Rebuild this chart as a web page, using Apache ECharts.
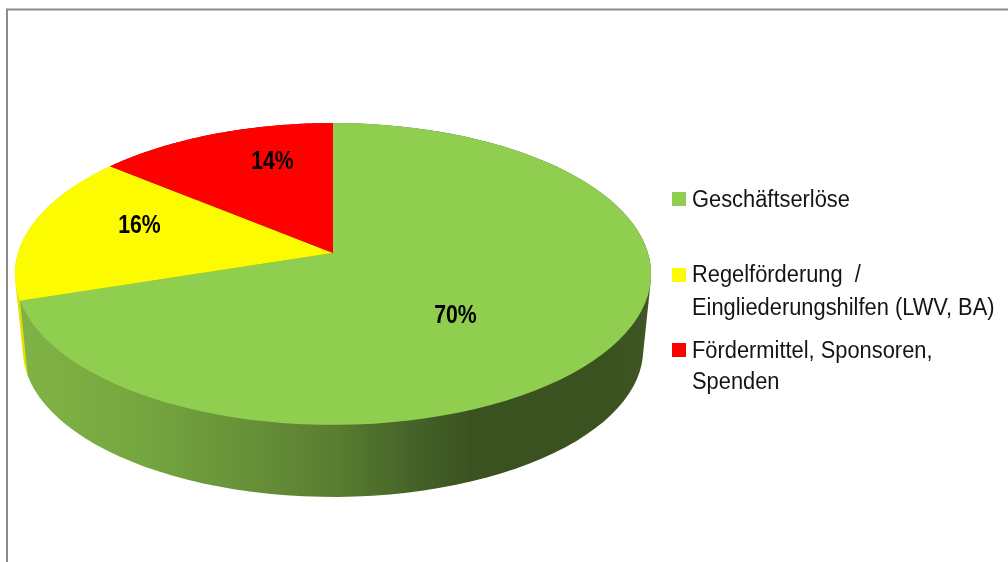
<!DOCTYPE html>
<html>
<head>
<meta charset="utf-8">
<style>html,body{margin:0;padding:0;background:#fff}#c{width:1008px;height:562px}</style>
<script src="https://cdn.jsdelivr.net/npm/echarts@6/dist/echarts.min.js"></script>
</head>
<body>
<div id="c"></div>
<script>
const categories = ['Geschäftserlöse', 'Regelförderung  /\nEingliederungshilfen (LWV, BA)', 'Fördermittel, Sponsoren,\nSpenden'];
const values = [70, 16, 14];
const colors = ['#90CE50', '#FCFB00', '#FF0000'];

// perspective view of the pie disc (layout only)
const VIEW = { cx: 333, cy: 253, sx: 315, sy: 148, k: 0.139, steps: 90 };
const BASE = { dy: 76.3, s: 0.975 };
const LABEL_AT = [[455.5, 316], [139.5, 226], [272.5, 162]];
const LABEL_SCALE = 0.85;
const LEGEND_X = 672, LEGEND_TEXT_X = 692, LEGEND_SCALE = 0.93;
const LEGEND_SWATCH_Y = [192, 268, 343];
const LEGEND_TEXT_DY = [2, 1, 2];
const LEGEND_LINE_H = [32, 33, 31];
const WALL_STOPS = [
  [[0, '#80B347'], [0.18, '#76A83F'], [0.38, '#668F38'], [0.5, '#5A7E31'], [0.62, '#466429'], [0.72, '#3A5220'], [0.93, '#3A5220'], [1, '#3F5723']],
  [[0, '#E6E000'], [1, '#E6E000']],
  [[0, '#B00000'], [1, '#B00000']]
];
const total = values.reduce((a, b) => a + b, 0);

function rim(theta, base) {
  const X = Math.sin(theta), Y = Math.cos(theta), w = 1 + VIEW.k * Y;
  const s = base ? BASE.s : 1, dy = base ? BASE.dy : 0;
  return [VIEW.cx + s * VIEW.sx * X / w, VIEW.cy + dy - s * VIEW.sy * Y / w];
}
function arc(a0, a1, base) {
  const pts = [];
  for (let i = 0; i <= VIEW.steps; i++) pts.push(rim(a0 + (a1 - a0) * i / VIEW.steps, base));
  return pts;
}
function hull(points) {
  const p = points.slice().sort((a, b) => a[0] - b[0] || a[1] - b[1]);
  const cross = (o, a, b) => (a[0] - o[0]) * (b[1] - o[1]) - (a[1] - o[1]) * (b[0] - o[0]);
  const half = list => {
    const out = [];
    list.forEach(q => {
      while (out.length > 1 && cross(out[out.length - 2], out[out.length - 1], q) <= 0) out.pop();
      out.push(q);
    });
    out.pop();
    return out;
  };
  return half(p).concat(half(p.slice().reverse()));
}
function renderer(idx) {
  return function (params, api) {
    const before = values.slice(0, idx).reduce((a, b) => a + b, 0);
    const a0 = before / total * 2 * Math.PI;
    const a1 = (before + api.value(0)) / total * 2 * Math.PI;
    const top = arc(a0, a1, false);
    const wall = hull(top.concat(arc(a1, a0, true)));
    const pct = Math.round(api.value(0) / total * 100) + '%';
    return {
      type: 'group',
      children: [
        { type: 'polygon', z2: idx === 0 ? 2 : 1, shape: { points: wall }, style: {
            fill: new echarts.graphic.LinearGradient(VIEW.cx - 318, 0, VIEW.cx + 318, 0,
              WALL_STOPS[idx].map(s => ({ offset: s[0], color: s[1] })), true) } },
        { type: 'polygon', z2: 3, shape: { points: [[VIEW.cx, VIEW.cy]].concat(top) }, style: { fill: colors[idx] } },
        { type: 'text', z2: 4, x: LABEL_AT[idx][0], y: LABEL_AT[idx][1], scaleX: LABEL_SCALE, style: { text: pct,
            font: 'bold 25px "Liberation Sans", Arial, sans-serif', fill: '#000',
            align: 'center', verticalAlign: 'middle' } }
      ]
    };
  };
}
const legendGraphics = [];
categories.forEach((name, i) => {
  legendGraphics.push({ type: 'rect', silent: true, shape: { x: LEGEND_X, y: LEGEND_SWATCH_Y[i], width: 14, height: 14 }, style: { fill: colors[i] } });
  legendGraphics.push({ type: 'text', silent: true, x: LEGEND_TEXT_X, y: LEGEND_SWATCH_Y[i] + 7 + LEGEND_TEXT_DY[i] - LEGEND_LINE_H[i] / 2, scaleX: LEGEND_SCALE,
    style: { text: name, font: '23.5px "Liberation Sans", Arial, sans-serif', lineHeight: LEGEND_LINE_H[i], fill: '#141414', align: 'left', verticalAlign: 'top' } });
});
const chart = echarts.init(document.getElementById('c'), null, { renderer: 'canvas' });
chart.setOption({
  animation: false,
  backgroundColor: '#fff',
  tooltip: { show: false },
  graphic: [{ type: 'polyline', silent: true, shape: { points: [[7, 562], [7, 9.5], [1008, 9.5]] },
    style: { stroke: '#8C8C8C', lineWidth: 2, fill: null } }].concat(legendGraphics),
  series: values.map((v, i) => ({
    type: 'custom', name: categories[i], coordinateSystem: 'none', silent: true,
    itemStyle: { color: colors[i] }, data: [v], renderItem: renderer(i)
  }))
});
</script>
</body>
</html>
